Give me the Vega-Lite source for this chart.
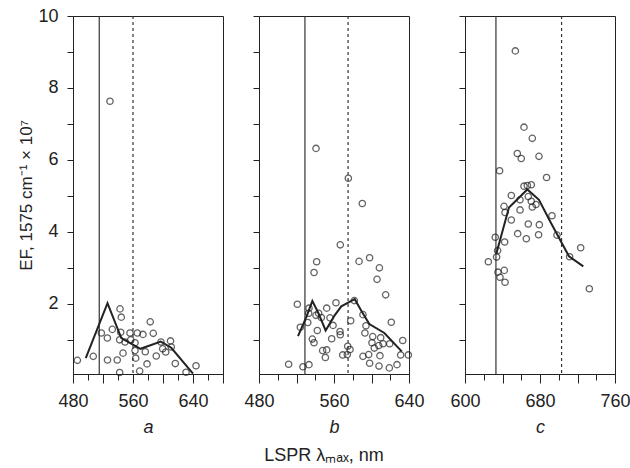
{
  "$schema": "https://vega.github.io/schema/vega-lite/v6.json",
  "padding": {"left": 17, "top": 6, "right": 0, "bottom": 0},
  "background": "white",
  "config": {
    "font": "Liberation Sans",
    "view": {"stroke": "#222", "strokeWidth": 1},
    "axis": {
      "grid": false,
      "domainColor": "#222",
      "tickColor": "#222",
      "labelColor": "#222",
      "titleColor": "#222",
      "labelFont": "Liberation Sans",
      "titleFont": "Liberation Sans",
      "labelFontSize": 18,
      "titleFontSize": 17,
      "titleFontWeight": "normal",
      "labelFlush": false,
      "labelOverlap": false,
      "format": "d"
    }
  },
  "datasets": {
    "pts": [
      {"p": "a", "x": 485.8, "y": 0.43}, {"p": "a", "x": 507, "y": 0.54}, {"p": "a", "x": 517.8, "y": 1.19}, {"p": "a", "x": 525.8, "y": 1.05},
      {"p": "a", "x": 526, "y": 0.44}, {"p": "a", "x": 532.4, "y": 1.29}, {"p": "a", "x": 539, "y": 0.44}, {"p": "a", "x": 542.7, "y": 1.86},
      {"p": "a", "x": 544.4, "y": 1.63}, {"p": "a", "x": 543.6, "y": 1.21}, {"p": "a", "x": 542.2, "y": 1.0}, {"p": "a", "x": 546.7, "y": 0.63},
      {"p": "a", "x": 542.2, "y": 0.09}, {"p": "a", "x": 549.3, "y": 0.94}, {"p": "a", "x": 556, "y": 1.19}, {"p": "a", "x": 557, "y": 1.0},
      {"p": "a", "x": 562.7, "y": 0.92}, {"p": "a", "x": 562.7, "y": 0.7}, {"p": "a", "x": 563.6, "y": 0.49}, {"p": "a", "x": 565.8, "y": 1.19},
      {"p": "a", "x": 573.3, "y": 1.15}, {"p": "a", "x": 568.9, "y": 0.13}, {"p": "a", "x": 576.4, "y": 0.67}, {"p": "a", "x": 578.7, "y": 0.33},
      {"p": "a", "x": 583, "y": 1.5}, {"p": "a", "x": 587, "y": 1.18}, {"p": "a", "x": 591, "y": 0.55}, {"p": "a", "x": 597.3, "y": 0.94},
      {"p": "a", "x": 599.6, "y": 0.75}, {"p": "a", "x": 603.6, "y": 0.66}, {"p": "a", "x": 610, "y": 0.97}, {"p": "a", "x": 611, "y": 0.8},
      {"p": "a", "x": 616.4, "y": 0.34}, {"p": "a", "x": 630.7, "y": 0.1}, {"p": "a", "x": 644, "y": 0.28}, {"p": "a", "x": 529.3, "y": 7.63},

      {"p": "b", "x": 540.8, "y": 6.32}, {"p": "b", "x": 575.3, "y": 5.49}, {"p": "b", "x": 590.2, "y": 4.79}, {"p": "b", "x": 566.7, "y": 3.64},
      {"p": "b", "x": 541.5, "y": 3.17}, {"p": "b", "x": 538.7, "y": 2.87}, {"p": "b", "x": 586.7, "y": 3.18}, {"p": "b", "x": 598, "y": 3.28},
      {"p": "b", "x": 608.4, "y": 3.0}, {"p": "b", "x": 605.9, "y": 2.68}, {"p": "b", "x": 615.1, "y": 2.25}, {"p": "b", "x": 520.9, "y": 1.99},
      {"p": "b", "x": 533.3, "y": 1.88}, {"p": "b", "x": 552.2, "y": 1.88}, {"p": "b", "x": 562.1, "y": 2.03}, {"p": "b", "x": 581.7, "y": 2.09},
      {"p": "b", "x": 524.1, "y": 1.35}, {"p": "b", "x": 532, "y": 1.48}, {"p": "b", "x": 533, "y": 1.74}, {"p": "b", "x": 543.6, "y": 1.74},
      {"p": "b", "x": 540.8, "y": 1.68}, {"p": "b", "x": 546.5, "y": 1.62}, {"p": "b", "x": 555.7, "y": 1.61}, {"p": "b", "x": 542.2, "y": 1.26},
      {"p": "b", "x": 559, "y": 1.4}, {"p": "b", "x": 566.4, "y": 1.23}, {"p": "b", "x": 566.7, "y": 1.14}, {"p": "b", "x": 577.8, "y": 1.53},
      {"p": "b", "x": 590.9, "y": 1.7}, {"p": "b", "x": 594.1, "y": 1.39}, {"p": "b", "x": 593, "y": 1.19}, {"p": "b", "x": 621.1, "y": 1.49},
      {"p": "b", "x": 536.9, "y": 1.02}, {"p": "b", "x": 538.7, "y": 0.92}, {"p": "b", "x": 557.5, "y": 1.03}, {"p": "b", "x": 601.3, "y": 1.09},
      {"p": "b", "x": 609.8, "y": 1.06}, {"p": "b", "x": 600.5, "y": 0.92}, {"p": "b", "x": 612.3, "y": 0.89}, {"p": "b", "x": 619.4, "y": 0.89},
      {"p": "b", "x": 633.3, "y": 0.98}, {"p": "b", "x": 603, "y": 0.77}, {"p": "b", "x": 607.7, "y": 0.84}, {"p": "b", "x": 547.9, "y": 0.7},
      {"p": "b", "x": 552.2, "y": 0.72}, {"p": "b", "x": 550.8, "y": 0.51}, {"p": "b", "x": 574.6, "y": 0.82}, {"p": "b", "x": 577.1, "y": 0.73},
      {"p": "b", "x": 569.3, "y": 0.58}, {"p": "b", "x": 574.2, "y": 0.59}, {"p": "b", "x": 590.9, "y": 0.54}, {"p": "b", "x": 597, "y": 0.59},
      {"p": "b", "x": 609, "y": 0.56}, {"p": "b", "x": 631.1, "y": 0.58}, {"p": "b", "x": 639.3, "y": 0.58}, {"p": "b", "x": 511.6, "y": 0.32},
      {"p": "b", "x": 526.9, "y": 0.25}, {"p": "b", "x": 533.3, "y": 0.31}, {"p": "b", "x": 598, "y": 0.35}, {"p": "b", "x": 608, "y": 0.27},
      {"p": "b", "x": 619, "y": 0.22}, {"p": "b", "x": 627.2, "y": 0.31},

      {"p": "c", "x": 653.7, "y": 9.03}, {"p": "c", "x": 662.9, "y": 6.91}, {"p": "c", "x": 671.8, "y": 6.6}, {"p": "c", "x": 655.8, "y": 6.18},
      {"p": "c", "x": 660, "y": 6.04}, {"p": "c", "x": 678.9, "y": 6.1}, {"p": "c", "x": 636.9, "y": 5.7}, {"p": "c", "x": 687, "y": 5.51},
      {"p": "c", "x": 662.9, "y": 5.27}, {"p": "c", "x": 666.5, "y": 5.29}, {"p": "c", "x": 670.7, "y": 5.31}, {"p": "c", "x": 649.4, "y": 5.01},
      {"p": "c", "x": 667.5, "y": 4.98}, {"p": "c", "x": 658.7, "y": 4.89}, {"p": "c", "x": 670.7, "y": 4.85}, {"p": "c", "x": 675.7, "y": 4.76},
      {"p": "c", "x": 671.8, "y": 4.69}, {"p": "c", "x": 641.6, "y": 4.71}, {"p": "c", "x": 642.7, "y": 4.54}, {"p": "c", "x": 658.7, "y": 4.61},
      {"p": "c", "x": 649.4, "y": 4.33}, {"p": "c", "x": 692.8, "y": 4.45}, {"p": "c", "x": 667.5, "y": 4.22}, {"p": "c", "x": 679.3, "y": 4.2},
      {"p": "c", "x": 656.2, "y": 3.95}, {"p": "c", "x": 665.4, "y": 3.81}, {"p": "c", "x": 678.5, "y": 3.92}, {"p": "c", "x": 698.1, "y": 3.91},
      {"p": "c", "x": 632.3, "y": 3.85}, {"p": "c", "x": 642.3, "y": 3.72}, {"p": "c", "x": 634.8, "y": 3.48}, {"p": "c", "x": 633.7, "y": 3.3},
      {"p": "c", "x": 723.4, "y": 3.56}, {"p": "c", "x": 711.6, "y": 3.31}, {"p": "c", "x": 624.9, "y": 3.17}, {"p": "c", "x": 635.2, "y": 2.88},
      {"p": "c", "x": 641.9, "y": 2.93}, {"p": "c", "x": 637.3, "y": 2.74}, {"p": "c", "x": 642.7, "y": 2.6}, {"p": "c", "x": 732.6, "y": 2.42}
    ],
    "curves": [
      {"p": "a", "x": 497, "y": 0.49}, {"p": "a", "x": 526, "y": 2.02}, {"p": "a", "x": 544.4, "y": 1.05}, {"p": "a", "x": 570, "y": 0.75},
      {"p": "a", "x": 597, "y": 0.95}, {"p": "a", "x": 611, "y": 0.78}, {"p": "a", "x": 640, "y": 0.06},
      {"p": "b", "x": 521.6, "y": 1.1}, {"p": "b", "x": 530.9, "y": 1.66}, {"p": "b", "x": 536.9, "y": 2.08}, {"p": "b", "x": 542.9, "y": 1.77},
      {"p": "b", "x": 551.1, "y": 1.26}, {"p": "b", "x": 560.7, "y": 1.68}, {"p": "b", "x": 567.8, "y": 1.93}, {"p": "b", "x": 582.1, "y": 2.13},
      {"p": "b", "x": 589.9, "y": 1.77}, {"p": "b", "x": 597.7, "y": 1.44}, {"p": "b", "x": 613.7, "y": 1.19}, {"p": "b", "x": 632.2, "y": 0.68},
      {"p": "c", "x": 633.4, "y": 3.39}, {"p": "c", "x": 646.9, "y": 4.68}, {"p": "c", "x": 666.5, "y": 5.18}, {"p": "c", "x": 678.9, "y": 4.89},
      {"p": "c", "x": 691.3, "y": 4.27}, {"p": "c", "x": 710.9, "y": 3.32}, {"p": "c", "x": 726.2, "y": 3.04}
    ],
    "vlines": [
      {"p": "a", "style": "solid", "x": 515}, {"p": "a", "style": "dotted", "x": 560},
      {"p": "b", "style": "solid", "x": 529}, {"p": "b", "style": "dotted", "x": 575},
      {"p": "c", "style": "solid", "x": 633}, {"p": "c", "style": "dotted", "x": 703}
    ]
  },
  "title": {
    "text": "LSPR λₘₐₓ, nm",
    "orient": "bottom",
    "anchor": "middle",
    "font": "Liberation Sans",
    "fontSize": 18,
    "fontWeight": "normal",
    "color": "#222",
    "offset": 10
  },
  "spacing": 24,
  "hconcat": [
    {
      "spacing": 19,
      "hconcat": [
        {
          "width": 150, "height": 358,
          "layer": [
            {"data": {"name": "vlines"}, "transform": [{"filter": "datum.p == 'a' && datum.style == 'solid'"}],
             "mark": {"type": "rule", "color": "#333", "strokeWidth": 1.2},
             "encoding": {"x": {"field": "x", "type": "quantitative", "scale": {"domain": [480, 680], "nice": false}}}},
            {"data": {"name": "vlines"}, "transform": [{"filter": "datum.p == 'a' && datum.style == 'dotted'"}],
             "mark": {"type": "rule", "color": "#333", "strokeWidth": 1.2, "strokeDash": [3, 3]},
             "encoding": {"x": {"field": "x", "type": "quantitative"}}},
            {"data": {"name": "curves"}, "transform": [{"filter": "datum.p == 'a'"}],
             "mark": {"type": "line", "color": "#222", "strokeWidth": 2},
             "encoding": {"x": {"field": "x", "type": "quantitative"},
                          "y": {"field": "y", "type": "quantitative", "scale": {"domain": [0.05, 10], "nice": false},
                                "axis": {"title": "EF, 1575 cm⁻¹ × 10⁷", "values": [1,2,3,4,5,6,7,8,9,10], "tickCount": 20, "format": "d",
                                         "labelExpr": "(datum.value == 2 || datum.value == 4 || datum.value == 6 || datum.value == 8 || datum.value == 10) ? datum.label : ''",
                                         "tickSize": 6, "labelPadding": 9, "titlePadding": 2}}}},
            {"data": {"name": "pts"}, "transform": [{"filter": "datum.p == 'a'"}],
             "mark": {"type": "point", "shape": "circle", "filled": false, "color": "#222", "strokeWidth": 1.3, "size": 40},
             "encoding": {
               "x": {"field": "x", "type": "quantitative",
                     "axis": {"title": "a", "titleFontStyle": "italic", "titleFontSize": 18, "values": [480,500,520,540,560,580,600,620,640,660,680], "tickCount": 20, "format": "d",
                              "labelExpr": "(datum.value - 480) % 80 == 0 && datum.value <= 640 ? datum.label : ''",
                              "tickSize": {"condition": {"test": "datum.value % 40 == 0", "value": 9}, "value": 6},
                              "labelPadding": 9, "titlePadding": 8}},
               "y": {"field": "y", "type": "quantitative"}
             }}
          ]
        },
        {
          "width": 150, "height": 358,
          "layer": [
            {"data": {"name": "vlines"}, "transform": [{"filter": "datum.p == 'b' && datum.style == 'solid'"}],
             "mark": {"type": "rule", "color": "#333", "strokeWidth": 1.2},
             "encoding": {"x": {"field": "x", "type": "quantitative", "scale": {"domain": [480, 640], "nice": false}}}},
            {"data": {"name": "vlines"}, "transform": [{"filter": "datum.p == 'b' && datum.style == 'dotted'"}],
             "mark": {"type": "rule", "color": "#333", "strokeWidth": 1.2, "strokeDash": [3, 3]},
             "encoding": {"x": {"field": "x", "type": "quantitative"}}},
            {"data": {"name": "curves"}, "transform": [{"filter": "datum.p == 'b'"}],
             "mark": {"type": "line", "color": "#222", "strokeWidth": 2},
             "encoding": {"x": {"field": "x", "type": "quantitative"},
                          "y": {"field": "y", "type": "quantitative", "scale": {"domain": [0.05, 10], "nice": false},
                                "axis": {"title": null, "labels": false, "values": [1,2,3,4,5,6,7,8,9,10], "tickCount": 20, "tickSize": 6}}}},
            {"data": {"name": "pts"}, "transform": [{"filter": "datum.p == 'b'"}],
             "mark": {"type": "point", "shape": "circle", "filled": false, "color": "#222", "strokeWidth": 1.3, "size": 40},
             "encoding": {
               "x": {"field": "x", "type": "quantitative",
                     "axis": {"title": "b", "titleFontStyle": "italic", "titleFontSize": 18, "values": [480,500,520,540,560,580,600,620,640], "tickCount": 20, "format": "d",
                              "labelExpr": "(datum.value - 480) % 80 == 0 ? datum.label : ''",
                              "tickSize": {"condition": {"test": "datum.value % 40 == 0", "value": 9}, "value": 6},
                              "labelPadding": 9, "titlePadding": 8}},
               "y": {"field": "y", "type": "quantitative"}
             }}
          ]
        }
      ]
    },
    {
      "width": 150, "height": 358,
      "layer": [
        {"data": {"name": "vlines"}, "transform": [{"filter": "datum.p == 'c' && datum.style == 'solid'"}],
         "mark": {"type": "rule", "color": "#333", "strokeWidth": 1.2},
         "encoding": {"x": {"field": "x", "type": "quantitative", "scale": {"domain": [600, 760], "nice": false}}}},
        {"data": {"name": "vlines"}, "transform": [{"filter": "datum.p == 'c' && datum.style == 'dotted'"}],
         "mark": {"type": "rule", "color": "#333", "strokeWidth": 1.2, "strokeDash": [3, 3]},
         "encoding": {"x": {"field": "x", "type": "quantitative"}}},
        {"data": {"name": "curves"}, "transform": [{"filter": "datum.p == 'c'"}],
         "mark": {"type": "line", "color": "#222", "strokeWidth": 2},
         "encoding": {"x": {"field": "x", "type": "quantitative"},
                      "y": {"field": "y", "type": "quantitative", "scale": {"domain": [0.05, 10], "nice": false},
                            "axis": {"title": null, "labels": false, "values": [1,2,3,4,5,6,7,8,9,10], "tickCount": 20, "tickSize": 6}}}},
        {"data": {"name": "pts"}, "transform": [{"filter": "datum.p == 'c'"}],
         "mark": {"type": "point", "shape": "circle", "filled": false, "color": "#222", "strokeWidth": 1.3, "size": 40},
         "encoding": {
           "x": {"field": "x", "type": "quantitative",
                 "axis": {"title": "c", "titleFontStyle": "italic", "titleFontSize": 18, "values": [600,620,640,660,680,700,720,740,760], "tickCount": 20, "format": "d",
                          "labelExpr": "(datum.value - 600) % 80 == 0 ? datum.label : ''",
                          "tickSize": {"condition": {"test": "datum.value % 40 == 0", "value": 9}, "value": 6},
                          "labelPadding": 9, "titlePadding": 8}},
           "y": {"field": "y", "type": "quantitative"}
         }}
      ]
    }
  ]
}
